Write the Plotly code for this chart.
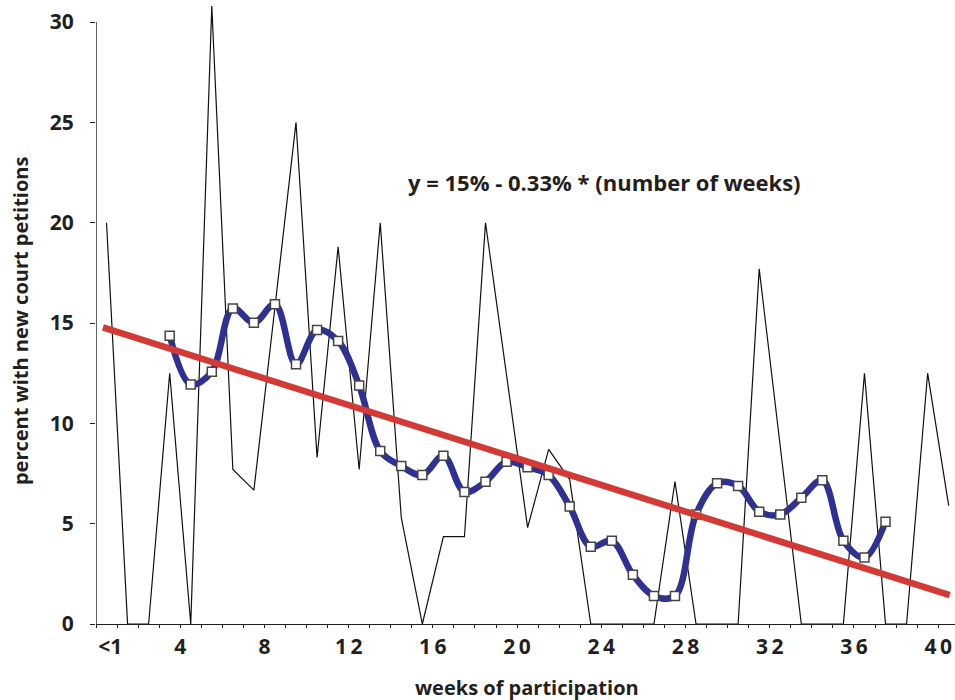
import plotly.graph_objects as go

# ---- data ----
week_index = list(range(41))            # category index: "<1", 1, 2, ... 40
weekly_pct = [20, 0, 0, 12.5, 0, 30.8, 7.7, 6.67, 15.8, 25,
              8.3, 18.8, 7.7, 20, 5.3, 0, 4.35, 4.35, 20, 12.4,
              4.8, 8.7, 7.2, 0, 0, 0, 0, 7.1, 0, 0,
              0, 17.7, 8.85, 0, 0, 0, 12.5, 0, 0, 12.5, 5.9]
smooth_index = list(range(3, 38))
smooth_pct = [14.37, 11.94, 12.57, 15.73, 15.01, 15.94, 12.94, 14.65, 14.1, 11.89,
              8.62, 7.87, 7.42, 8.39, 6.58, 7.09, 8.09, 7.81, 7.42, 5.85,
              3.85, 4.15, 2.45, 1.40, 1.40, 5.46, 7.01, 6.88, 5.6, 5.46,
              6.29, 7.17, 4.15, 3.31, 5.1]
trend_x = [0.33, 40.55]
trend_y = [14.78, 1.44]
xtick_vals = [0.68, 4, 8, 12, 16, 20, 24, 28, 32, 36, 40]
xtick_text = ["<1", "4", "8", "1\u20092", "1\u20096", "2\u20090", "2\u20094",
              "2\u20098", "3\u20092", "3\u20096", "4\u20090"]
ytick_vals = [0, 5, 10, 15, 20, 25, 30]

FONT = "Open Sans"
TXT = "#231f20"

# category index i is drawn at the centre of its slot (i + 0.5)
xs = [i + 0.5 for i in week_index]
xs_s = [i + 0.5 for i in smooth_index]

fig = go.Figure()
fig.add_trace(go.Scatter(x=xs, y=weekly_pct, mode="lines",
                         line=dict(color="#111111", width=1.2),
                         hoverinfo="skip", showlegend=False))
fig.add_trace(go.Scatter(x=xs_s, y=smooth_pct, mode="lines+markers",
                         line=dict(color="#2e3192", width=6.5, shape="spline", smoothing=1.0),
                         marker=dict(symbol="square", size=9, color="white",
                                     line=dict(color="#444444", width=1.5)),
                         showlegend=False))
fig.add_trace(go.Scatter(x=trend_x, y=trend_y, mode="lines",
                         line=dict(color="#d33a36", width=6.5),
                         showlegend=False))

fig.update_layout(
    width=955, height=700,
    margin=dict(l=96, r=0, t=0, b=76),
    paper_bgcolor="white", plot_bgcolor="white",
    font=dict(family=FONT, color=TXT, size=20, weight="bold"),
    xaxis=dict(range=[0, 40.8], showgrid=False, zeroline=False,
               showline=True, linecolor=TXT, linewidth=1.4,
               tickmode="array", tickvals=xtick_vals, ticktext=xtick_text,
               ticks="", ticklabelstandoff=4,
               tickfont=dict(family=FONT, size=21, color=TXT, weight="bold"),
               minor=dict(tickmode="array", tickvals=list(range(0, 41)),
                          ticks="outside", ticklen=3, tickcolor=TXT, tickwidth=1)),
    yaxis=dict(range=[0, 31.1], showgrid=False, zeroline=False, showline=False,
               tickmode="array", tickvals=ytick_vals,
               ticks="outside", ticklen=5, tickcolor=TXT, tickwidth=1,
               ticklabelstandoff=12,
               tickfont=dict(family=FONT, size=21, color=TXT, weight="bold")),
    shapes=[dict(type="line", xref="x", yref="y", x0=0, x1=0, y0=0, y1=30,
                 line=dict(color=TXT, width=1.4))],
    annotations=[
        dict(text="y = 15% - 0.33% * (number of weeks)", xref="paper", yref="paper",
             x=0.5925, y=0.708, xanchor="center", yanchor="middle", showarrow=False,
             font=dict(family=FONT, size=22, color=TXT, weight="bold")),
        dict(text="percent with new court petitions", xref="paper", yref="paper",
             x=-0.0885, y=0.487, xanchor="center", yanchor="middle", textangle=-90,
             showarrow=False, font=dict(family=FONT, size=20, color=TXT, weight="bold")),
        dict(text="weeks of participation", xref="paper", yref="paper",
             x=0.502, y=-0.101, xanchor="center", yanchor="middle", showarrow=False,
             font=dict(family=FONT, size=20, color=TXT, weight="bold")),
    ],
)

fig.write_html("out.html")
